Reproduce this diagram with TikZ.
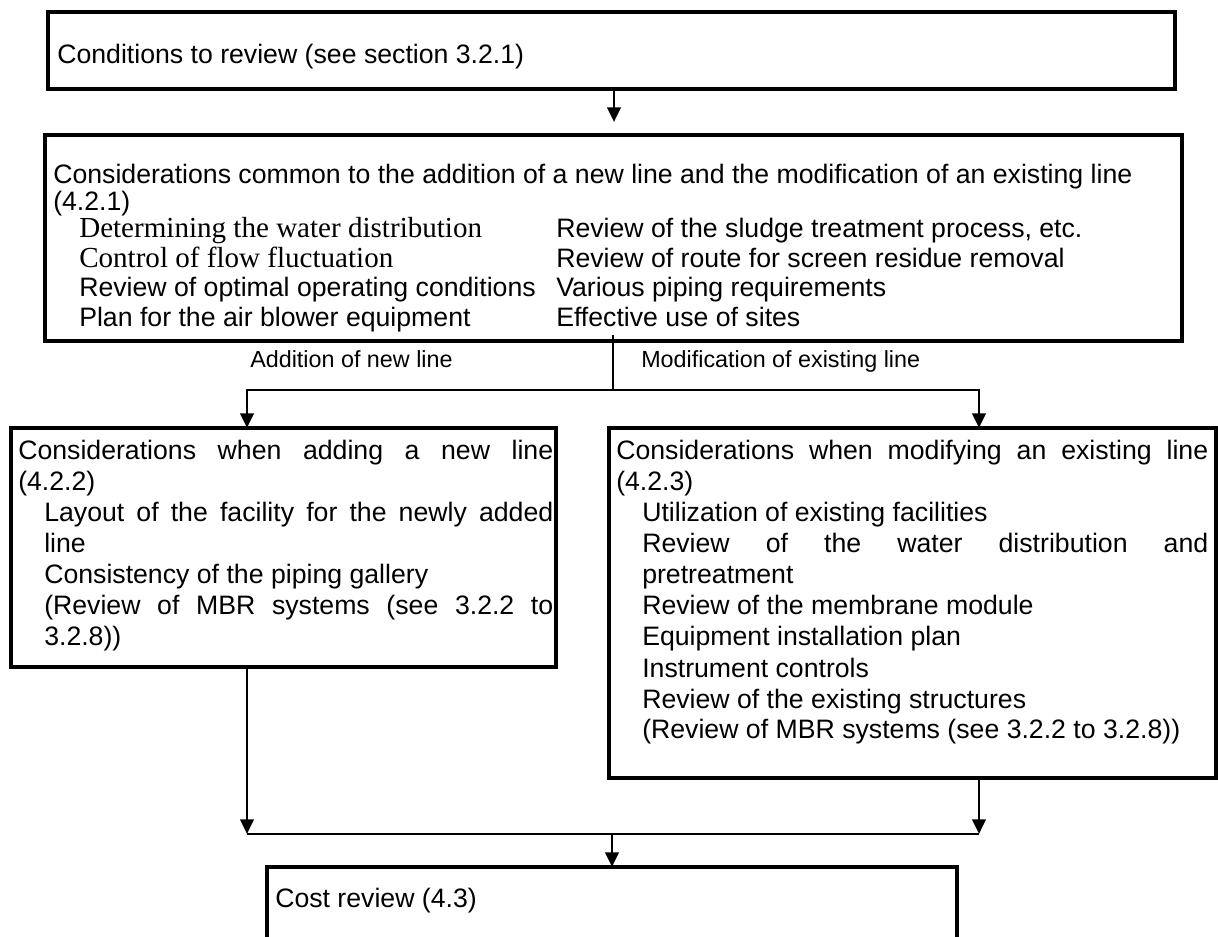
\documentclass[tikz,border=0pt]{standalone}
\usepackage{fontspec}
\setmainfont{Liberation Sans}
\newfontfamily\serifface{Liberation Serif}
\usetikzlibrary{arrows.meta}
% a line of text stretched to a width given in pixels (1px = 0.75pt)
\newcommand{\jline}[2]{\makebox[\dimexpr #1pt*3/4\relax][s]{#2}}
\begin{document}
\begin{tikzpicture}[x=0.75pt,y=-0.75pt,
  box/.style={draw, line width=2.7pt, rectangle, inner sep=0pt, outer sep=0pt, anchor=north west},
  txt/.style={anchor=base west, inner sep=0pt, font=\fontsize{20pt}{24pt}\selectfont},
  stxt/.style={txt, font=\fontsize{21.8pt}{24pt}\selectfont\serifface},
  lbl/.style={anchor=base west, inner sep=0pt, font=\fontsize{17.5pt}{20pt}\selectfont},
  link/.style={line width=2.2pt},
  arr/.style={link, -{Triangle[length=11pt,width=10pt]}}]
\useasboundingbox (0,0) rectangle (1218,937);
\clip (0,0) rectangle (1218,937);

% boxes
\node[box, minimum width=1127*0.75pt, minimum height=77*0.75pt] (b1) at (48,12) {};
\node[box, minimum width=1137*0.75pt, minimum height=206*0.75pt] (b2) at (45,135) {};
\node[box, minimum width=545*0.75pt, minimum height=239*0.75pt] (b3) at (11,428) {};
\node[box, minimum width=607*0.75pt, minimum height=350*0.75pt] (b4) at (609,428) {};
\node[box, minimum width=690*0.75pt, minimum height=120*0.75pt] (b5) at (267,867) {};

% texts
\node[txt] (t1) at (57,64) {Conditions to review (see section 3.2.1)};

\node[txt] (t2a) at (53,184) {Considerations common to the addition of a new line and the modification of an existing line};
\node[txt] (t2b) at (53,211) {(4.2.1)};
\node[stxt] (t2c) at (79,238) {Determining the water distribution};
\node[stxt] (t2d) at (79,268) {Control of flow fluctuation};
\node[txt] (t2e) at (79,297) {Review of optimal operating conditions};
\node[txt] (t2f) at (79,327) {Plan for the air blower equipment};
\node[txt] (t2g) at (556,238) {Review of the sludge treatment process, etc.};
\node[txt] (t2h) at (556,268) {Review of route for screen residue removal};
\node[txt] (t2i) at (556,297) {Various piping requirements};
\node[txt] (t2j) at (556,327) {Effective use of sites};

\node[lbl] (l1) at (250,368) {Addition of new line};
\node[lbl] (l2) at (641,368) {Modification of existing line};

\node[txt] (t3a) at (18,460) {\jline{535}{Considerations when adding a new line}};
\node[txt] (t3b) at (18,491) {(4.2.2)};
\node[txt] (t3c) at (44,522) {\jline{509}{Layout of the facility for the newly added}};
\node[txt] (t3d) at (44,553) {line};
\node[txt] (t3e) at (44,584) {Consistency of the piping gallery};
\node[txt] (t3f) at (44,615) {\jline{509}{(Review of MBR systems (see 3.2.2 to}};
\node[txt] (t3g) at (44,646) {3.2.8))};

\node[txt] (t4a) at (616,460) {\jline{592}{Considerations when modifying an existing line}};
\node[txt] (t4b) at (616,491) {(4.2.3)};
\node[txt] (t4c) at (642,522) {Utilization of existing facilities};
\node[txt] (t4d) at (642,553) {\jline{566}{Review of the water distribution and}};
\node[txt] (t4e) at (642,584) {pretreatment};
\node[txt] (t4f) at (642,615) {Review of the membrane module};
\node[txt] (t4g) at (642,646) {Equipment installation plan};
\node[txt] (t4h) at (642,677) {Instrument controls};
\node[txt] (t4i) at (642,708) {Review of the existing structures};
\node[txt] (t4j) at (642,739) {(Review of MBR systems (see 3.2.2 to 3.2.8))};

\node[txt] (t5) at (275,907) {Cost review (4.3)};

% connector points
\coordinate (a1) at (614,122);
\coordinate (s0) at (613,335);
\coordinate (j1) at (613,390);
\coordinate (xl) at (247,0);
\coordinate (xr) at (979,0);
\coordinate (m1) at (247,834);
\coordinate (m2) at (979,834);

% connectors
\draw[arr] (b1.south -| a1) -- (a1);
\draw[link] (s0) -- (j1);
\draw[arr] (j1) -| (b3.north -| xl);
\draw[arr] (j1) -| (b4.north -| xr);
\draw[arr] (b3.south -| xl) -- (m1);
\draw[arr] (b4.south -| xr) -- (m2);
\draw[link] (m1) -- (m2);
\draw[arr] (b5.north |- m1) -- (b5.north);
\end{tikzpicture}
\end{document}
